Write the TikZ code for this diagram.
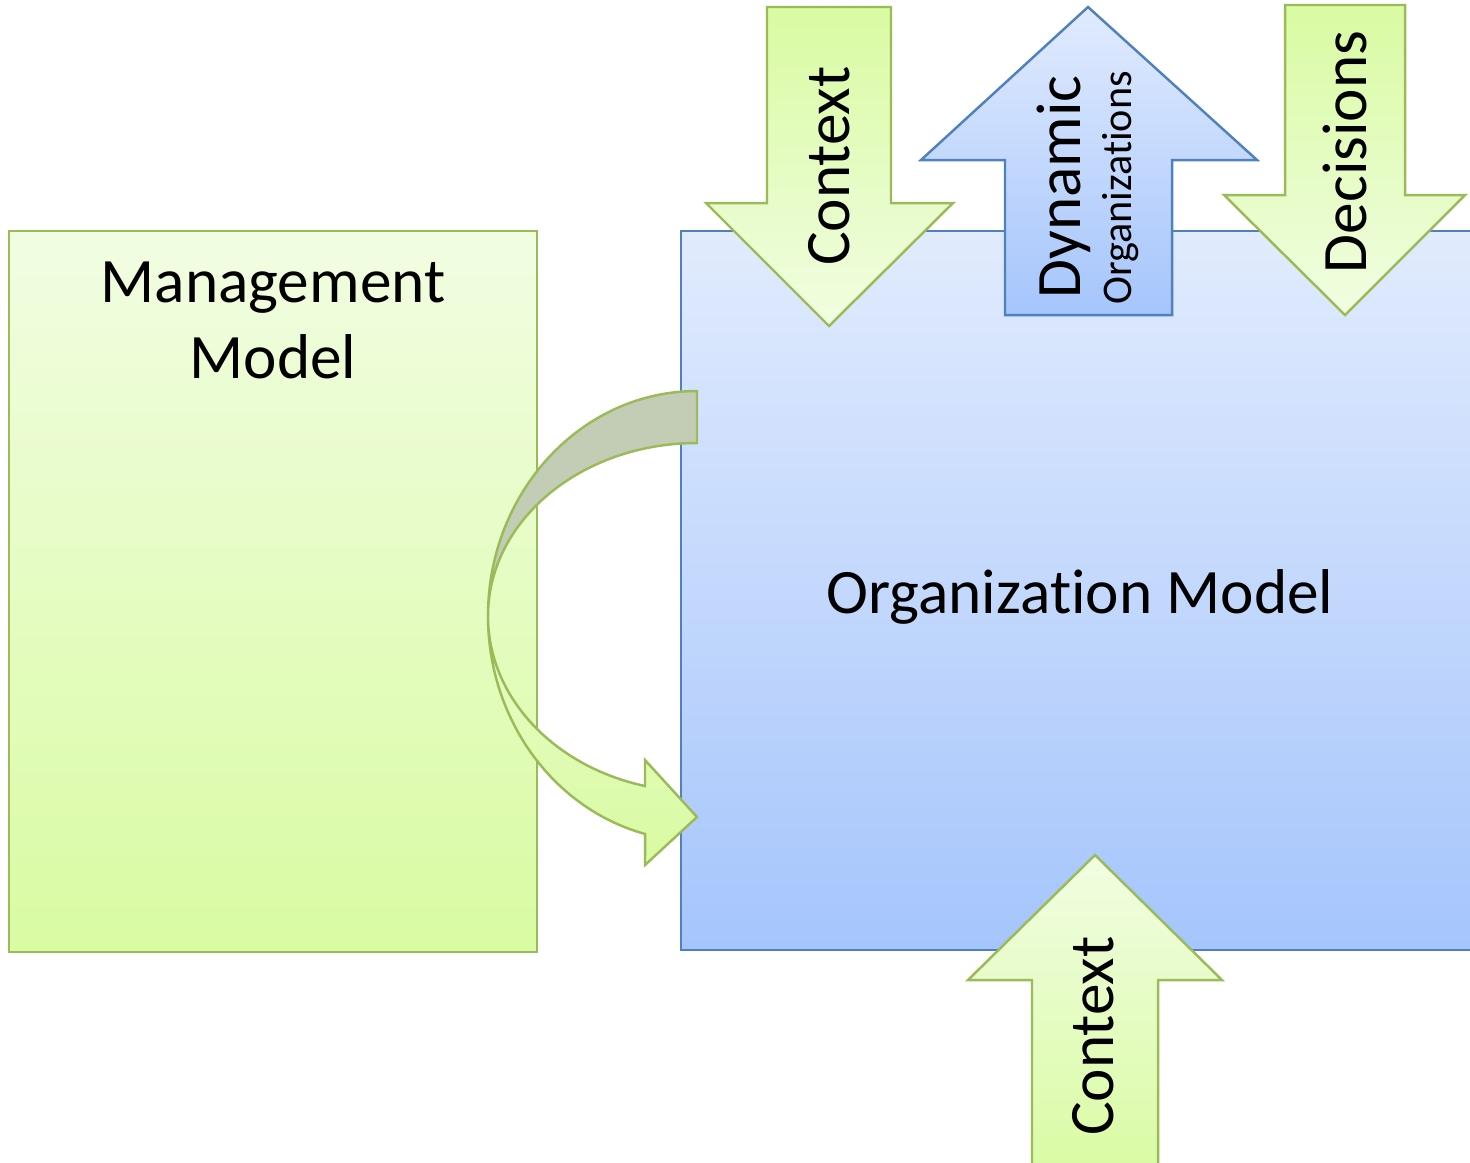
\documentclass[tikz,border=0pt]{standalone}
\usepackage{fontspec}
\setmainfont[Ligatures=NoCommon]{Carlito}
\definecolor{gborder}{HTML}{9BBB59}
\definecolor{glight}{HTML}{F1FDE2}
\definecolor{gdark}{HTML}{D9FBA2}
\definecolor{bborder}{HTML}{4F81BD}
\definecolor{blight}{HTML}{E1EBFD}
\definecolor{bdark}{HTML}{A5C5FC}
\definecolor{grayband}{HTML}{C3CCB4}
\begin{document}
\begin{tikzpicture}[x=0.01cm,y=-0.01cm,
  gshape/.style={draw=gborder,line width=0.7pt,line join=miter},
  bshape/.style={draw=bborder,line width=0.7pt,line join=miter},
  bigtext/.style={font=\fontsize{18}{21.6}\selectfont,text=black,inner sep=0pt},
  smalltext/.style={font=\fontsize{12}{14.4}\selectfont,text=black,inner sep=0pt},
  arrowtext/.style={bigtext,rotate=90}]
\useasboundingbox (0,0) rectangle (1470,1162);
\clip (0,0) rectangle (1470,1162);
% boxes
\path[gshape,top color=glight,bottom color=gdark] (9,231) rectangle (537,952);
\path[bshape,top color=blight,bottom color=bdark] (681,231) rectangle (1490,950);
\node[bigtext,align=center] (mgmt) at (273,320) {Management\\Model};
\node[bigtext] (org) at (1080,597) {Organization Model};
% top Context arrow
\path[gshape,top color=gdark,bottom color=glight]
  (767,7) -- (891,7) -- (891,203) -- (953,203) -- (829,326) -- (706,203) -- (767,203) -- cycle;
\node[arrowtext] (ctxtop) at (829,166) {Context};
% Dynamic arrow
\path[bshape,top color=blight,bottom color=bdark]
  (1088,7) -- (1257,160) -- (1172,160) -- (1172,315) -- (1005,315) -- (1005,160) -- (921,160) -- cycle;
\node[bigtext,rotate=90,anchor=base] (dyn) at (1080,187) {Dynamic};
\node[smalltext,rotate=90,anchor=base] (orgs) at (1131,188) {Organizations};
% Decisions arrow
\path[gshape,top color=gdark,bottom color=glight]
  (1285,5) -- (1405,5) -- (1405,195) -- (1465,195) -- (1345,315) -- (1224,195) -- (1285,195) -- cycle;
\node[arrowtext] (dec) at (1345,152) {Decisions};
% bottom Context arrow
\path[gshape,top color=glight,bottom color=gdark]
  (1095,855) -- (1222,980) -- (1158,980) -- (1158,1180) -- (1032,1180) -- (1032,980) -- (968,980) -- cycle;
\node[arrowtext] (ctxbot) at (1093,1036) {Context};
% curved arrow: front (lower) band
\path[gshape,top color=glight!60!gdark,bottom color=gdark]
  (488,616) arc[start angle=180,end angle=104.4,x radius=209,y radius=225]
  -- (645,865) -- (697,817) -- (645,760) -- (645,786)
  arc[start angle=104.4,end angle=180,x radius=209,y radius=175.5] -- cycle;
% curved arrow: back (upper) band
\path[gshape,fill=grayband]
  (697,391) arc[start angle=270,end angle=180,x radius=209,y radius=225]
  arc[start angle=180,end angle=270,x radius=209,y radius=173] -- cycle;
\end{tikzpicture}
\end{document}
